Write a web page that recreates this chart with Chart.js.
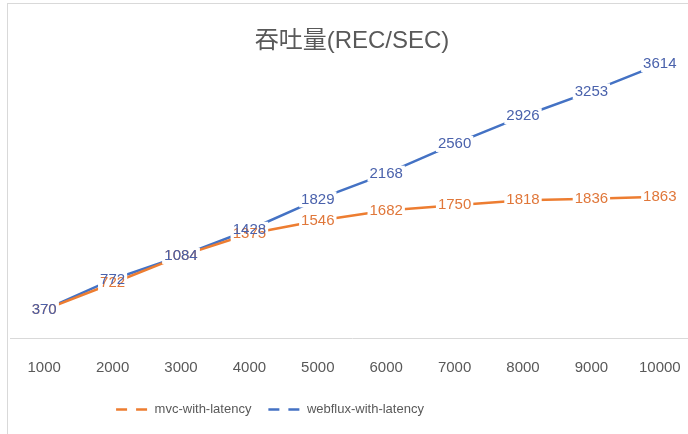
<!DOCTYPE html>
<html>
<head>
<meta charset="utf-8">
<script src="https://cdn.jsdelivr.net/npm/chart.js@4/dist/chart.umd.min.js"></script>
<style>
  html, body { margin: 0; padding: 0; background: #fff; overflow: hidden; width: 688px; height: 434px; }
  #frame { position: absolute; left: 7px; top: 3px; width: 700px; height: 440px; border: 1px solid #d9d9d9; background: #fff; }
  #wrap { position: absolute; left: 0px; top: 0px; width: 692px; height: 430px; }
</style>
</head>
<body>
<div id="frame"><div id="wrap"><canvas id="c"></canvas></div></div>
<script>
const categories = ['1000', '2000', '3000', '4000', '5000', '6000', '7000', '8000', '9000', '10000'];
const mvcWithLatency = [370, 722, 1084, 1375, 1546, 1682, 1750, 1818, 1836, 1863];
const webfluxWithLatency = [370, 772, 1084, 1428, 1829, 2168, 2560, 2926, 3253, 3614];
const seriesNames = ['mvc-with-latency', 'webflux-with-latency'];
const titleText = '吞吐量(REC/SEC)';

const FONT = "'Liberation Sans', 'Noto Sans CJK SC', sans-serif";

const dataLabelPlugin = {
  id: 'dataLabels',
  afterDatasetsDraw(chart) {
    const ctx = chart.ctx;
    ctx.save();
    ctx.font = '15px ' + FONT;
    ctx.textAlign = 'center';
    ctx.textBaseline = 'middle';
    const items = [];
    chart.data.datasets.forEach((ds, i) => {
      const meta = chart.getDatasetMeta(i);
      meta.data.forEach((pt, j) => {
        items.push({ txt: String(ds.data[j]), x: pt.x, y: pt.y, color: ds.labelColor });
      });
    });
    ctx.fillStyle = '#ffffff';
    items.forEach(it => {
      const w = ctx.measureText(it.txt).width;
      ctx.fillRect(it.x - w / 2 - 2, it.y - 8, w + 4, 16);
    });
    items.forEach(it => {
      ctx.fillStyle = it.color;
      ctx.fillText(it.txt, it.x, it.y);
    });
    ctx.restore();
  }
};

const legendShiftPlugin = {
  id: 'legendShift',
  afterLayout(chart) {
    const lg = chart.legend;
    if (lg) { lg.left = 0; lg.right = 524; }
  }
};

new Chart(document.getElementById('c'), {
  type: 'line',
  data: {
    labels: categories,
    datasets: [
      { label: seriesNames[0], data: mvcWithLatency, borderColor: '#ED7D31', backgroundColor: '#ED7D31', labelColor: '#E0773A', borderWidth: 2.5, pointRadius: 0, tension: 0, fill: false },
      { label: seriesNames[1], data: webfluxWithLatency, borderColor: '#4472C4', backgroundColor: '#4472C4', labelColor: '#4A62AC', borderWidth: 2.5, pointRadius: 0, tension: 0, fill: false }
    ]
  },
  options: {
    responsive: true,
    maintainAspectRatio: false,
    animation: false,
    layout: { padding: { left: 2, right: 6, top: 0, bottom: 8 } },
    plugins: {
      title: {
        display: true,
        text: titleText,
        color: '#595959',
        font: { family: FONT, size: 24, weight: 'normal' },
        padding: { top: 23, bottom: -21 }
      },
      legend: {
        position: 'bottom',
        labels: {
          color: '#595959',
          font: { family: FONT, size: 13 },
          usePointStyle: true,
          pointStyleWidth: 32,
          padding: 17,
          generateLabels(chart) {
            return chart.data.datasets.map((ds, i) => ({
              text: ds.label,
              fillStyle: ds.borderColor,
              strokeStyle: ds.borderColor,
              fontColor: '#595959',
              lineWidth: 2.5,
              lineDash: [11, 9],
              pointStyle: 'line',
              hidden: false,
              datasetIndex: i
            }));
          }
        }
      },
      tooltip: { enabled: false }
    },
    scales: {
      x: {
        type: 'category',
        offset: true,
        grid: { display: false },
        border: { display: true, color: '#d9d9d9', width: 1 },
        ticks: { color: '#595959', font: { family: FONT, size: 15 }, padding: 13, maxRotation: 0, autoSkip: false },
        afterFit(scale) { scale.height -= 4; }
      },
      y: {
        display: false,
        min: 0,
        max: 4000
      }
    }
  },
  plugins: [dataLabelPlugin, legendShiftPlugin]
});
</script>
</body>
</html>
